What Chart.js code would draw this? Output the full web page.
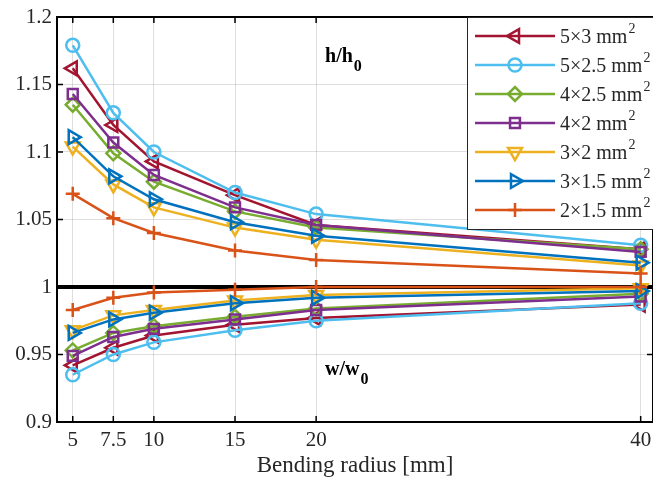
<!DOCTYPE html>
<html>
<head>
<meta charset="utf-8">
<script src="https://cdn.jsdelivr.net/npm/chart.js@4.4.0/dist/chart.umd.min.js"></script>
<style>
  body { margin: 0; background: #fff; }
  canvas { display: block; }
</style>
</head>
<body>
<canvas id="myChart" width="653" height="480"></canvas>
<script>
// bending radius [mm]
const radius = [5, 7.5, 10, 15, 20, 40];
const yTicks = [0.9, 0.95, 1, 1.05, 1.1, 1.15, 1.2];

// cross sections (legend order)
const sections = ['5×3', '5×2.5', '4×2.5', '4×2', '3×2', '3×1.5', '2×1.5'];

// thickness ratio h/h0
const h5x3   = [1.162, 1.120, 1.093, 1.068, 1.046, 1.028];
const h5x25  = [1.179, 1.129, 1.100, 1.070, 1.054, 1.031];
const h4x25  = [1.135, 1.099, 1.078, 1.056, 1.044, 1.028];
const h4x2   = [1.143, 1.107, 1.083, 1.059, 1.046, 1.026];
const h3x2   = [1.104, 1.076, 1.059, 1.044, 1.035, 1.016];
const h3x15  = [1.111, 1.082, 1.065, 1.048, 1.038, 1.018];
const h2x15  = [1.069, 1.051, 1.040, 1.027, 1.020, 1.010];

// width ratio w/w0
const w5x3   = [0.942, 0.955, 0.964, 0.972, 0.977, 0.987];
const w5x25  = [0.935, 0.950, 0.959, 0.968, 0.975, 0.988];
const w4x25  = [0.953, 0.966, 0.971, 0.978, 0.984, 0.995];
const w4x2   = [0.949, 0.963, 0.969, 0.976, 0.983, 0.993];
const w3x2   = [0.968, 0.979, 0.983, 0.990, 0.994, 0.999];
const w3x15  = [0.966, 0.976, 0.981, 0.988, 0.992, 0.997];
const w2x15  = [0.983, 0.992, 0.996, 0.998, 1.000, 1.000];

const hSeries = [h5x3, h5x25, h4x25, h4x2, h3x2, h3x15, h2x15];
const wSeries = [w5x3, w5x25, w4x25, w4x2, w3x2, w3x15, w2x15];

// matlab-ish colours and markers
const colors = ['#A2142F', '#4DBEEE', '#77AC30', '#7E2F8E', '#EDB120', '#0072BD', '#D95319'];
const markers = [
  { pointStyle: 'triangle', rotation: -90, radius: 8 },
  { pointStyle: 'circle', rotation: 0, radius: 6.5 },
  { pointStyle: 'rectRot', rotation: 0, radius: 7 },
  { pointStyle: 'rect', rotation: 0, radius: 7 },
  { pointStyle: 'triangle', rotation: 180, radius: 8 },
  { pointStyle: 'triangle', rotation: 90, radius: 8 },
  { pointStyle: 'cross', rotation: 0, radius: 7 }
];

const FONT = '"Liberation Serif", "Times New Roman", serif';
const INK = '#262626';

function makeSet(values, i, label) {
  const m = markers[i];
  return {
    label: label,
    data: values.map((v, k) => ({ x: radius[k], y: v })),
    borderColor: colors[i],
    backgroundColor: colors[i],
    borderWidth: 2.5,
    pointStyle: m.pointStyle,
    pointRotation: m.rotation,
    pointRadius: m.radius,
    pointBorderWidth: 2.5,
    pointBorderColor: colors[i],
    pointBackgroundColor: 'rgba(0,0,0,0)',
    tension: 0,
    order: sections.length - 1 - i
  };
}

const datasets = [];
sections.forEach((s, i) => {
  datasets.push(makeSet(hSeries[i], i, s + ' h'));
  datasets.push(makeSet(wSeries[i], i, s + ' w'));
});

function drawMarker(ctx, i, x, y) {
  const m = markers[i];
  ctx.save();
  ctx.strokeStyle = colors[i];
  ctx.fillStyle = 'rgba(0,0,0,0)';
  ctx.lineWidth = 2.5;
  Chart.helpers.drawPoint(ctx, {
    pointStyle: m.pointStyle, rotation: m.rotation, radius: m.radius, borderWidth: 2.5
  }, x, y);
  ctx.restore();
}

// box, inward ticks, y=1 line, ratio labels and legend
const framePlugin = {
  id: 'frame',
  beforeDatasetsDraw(chart) {
    const { ctx, chartArea: a, scales: { y } } = chart;
    const y1 = y.getPixelForValue(1);
    ctx.save();
    ctx.strokeStyle = '#000';
    ctx.lineWidth = 4;
    ctx.beginPath();
    ctx.moveTo(a.left, y1);
    ctx.lineTo(a.right, y1);
    ctx.stroke();
    ctx.restore();
  },
  afterDatasetsDraw(chart) {
    const { ctx, chartArea: a, scales: { x, y } } = chart;
    ctx.save();
    ctx.strokeStyle = '#000';
    ctx.lineWidth = 2;
    ctx.strokeRect(a.left, a.top, a.right - a.left, a.bottom - a.top);

    ctx.lineWidth = 1.5;
    ctx.beginPath();
    radius.forEach(v => {
      const px = x.getPixelForValue(v);
      ctx.moveTo(px, a.bottom); ctx.lineTo(px, a.bottom - 6);
      ctx.moveTo(px, a.top); ctx.lineTo(px, a.top + 6);
    });
    yTicks.forEach(v => {
      const py = y.getPixelForValue(v);
      ctx.moveTo(a.left, py); ctx.lineTo(a.left + 6, py);
      ctx.moveTo(a.right, py); ctx.lineTo(a.right - 6, py);
    });
    ctx.stroke();

    // ratio labels
    const ratioLabel = (base, xv, yv) => {
      const px = x.getPixelForValue(xv);
      const py = y.getPixelForValue(yv);
      ctx.fillStyle = '#000';
      ctx.textAlign = 'left';
      ctx.textBaseline = 'alphabetic';
      ctx.font = 'bold 20px ' + FONT;
      ctx.fillText(base, px, py);
      const w = ctx.measureText(base).width;
      ctx.font = 'bold 16px ' + FONT;
      ctx.fillText('0', px + w + 1, py + 9);
    };
    ratioLabel('h/h', 20.55, 1.167);
    ratioLabel('w/w', 20.55, 0.935);

    // legend
    const lx = 467, ly = 17, lw = 190, lh = 212;
    ctx.fillStyle = '#fff';
    ctx.fillRect(lx, ly, lw, lh);
    ctx.strokeStyle = INK;
    ctx.lineWidth = 1;
    ctx.strokeRect(lx + 0.5, ly + 0.5, lw, lh);
    sections.forEach((s, i) => {
      const cy = 36 + i * 29;
      ctx.strokeStyle = colors[i];
      ctx.lineWidth = 2.5;
      ctx.beginPath();
      ctx.moveTo(475, cy);
      ctx.lineTo(555, cy);
      ctx.stroke();
      drawMarker(ctx, i, 515, cy);
      ctx.fillStyle = INK;
      ctx.textAlign = 'left';
      ctx.textBaseline = 'alphabetic';
      ctx.font = '20px ' + FONT;
      const txt = s + ' mm';
      ctx.fillText(txt, 560, cy + 7);
      const tw = ctx.measureText(txt).width;
      ctx.font = '14px ' + FONT;
      ctx.fillText('2', 560 + tw + 1, cy - 3);
    });
    ctx.restore();
  }
};

const ctx = document.getElementById('myChart').getContext('2d');
const myChart = new Chart(ctx, {
  type: 'line',
  data: { datasets: datasets },
  options: {
    responsive: false,
    animation: false,
    layout: { autoPadding: false, padding: { top: 17, right: 0, left: 0, bottom: 0 } },
    plugins: {
      legend: { display: false },
      tooltip: { enabled: false }
    },
    scales: {
      x: {
        type: 'linear',
        min: 4.03,
        max: 40.76,
        afterBuildTicks: scale => { scale.ticks = radius.map(v => ({ value: v })); },
        afterFit: scale => {
          scale.height = 58;
          scale.paddingLeft = 0;
          scale.paddingRight = 0;
        },
        grid: { color: 'rgba(0,0,0,0.13)', lineWidth: 1, drawTicks: false },
        border: { display: false },
        ticks: {
          color: INK,
          padding: 6,
          maxRotation: 0,
          font: { family: FONT, size: 21 },
          callback: v => String(v)
        },
        title: {
          display: true,
          text: 'Bending radius [mm]',
          color: INK,
          padding: { top: 0, bottom: 0 },
          font: { family: FONT, size: 23 }
        }
      },
      y: {
        min: 0.9,
        max: 1.2,
        afterBuildTicks: scale => { scale.ticks = yTicks.map(v => ({ value: v })); },
        afterFit: scale => {
          scale.width = 57;
          scale.paddingTop = 0;
          scale.paddingBottom = 0;
        },
        grid: { color: 'rgba(0,0,0,0.13)', lineWidth: 1, drawTicks: false },
        border: { display: false },
        ticks: {
          color: INK,
          padding: 5,
          font: { family: FONT, size: 21 },
          callback: v => String(+v.toFixed(2))
        }
      }
    }
  },
  plugins: [framePlugin]
});
</script>
</body>
</html>
